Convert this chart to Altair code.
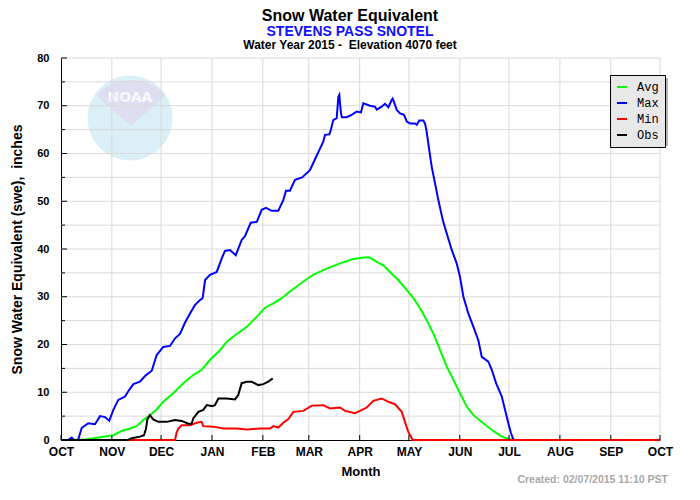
import json
import altair as alt
import pandas as pd

# ---------------- data ----------------
# x = day of water year (0 = Oct 1, 2014), y = snow water equivalent, inches
AVG_DAYS = [0, 14.6, 19.7, 25.8, 31.9, 37.0, 42.0, 46.1, 50.2, 54.2, 58.3, 62.3, 68.4, 74.5, 80.6,
            85.7, 90.8, 96.9, 101.0, 107.1, 113.2, 119.3, 124.3, 129.4, 134.5, 139.5, 147.7, 153.7,
            161.9, 170.0, 178.1, 184.2, 188.3, 192.4, 196.4, 200.5, 205.5, 210.7, 214.7, 218.8,
            222.8, 226.9, 231.0, 235.0, 239.1, 243.1, 247.2, 251.3, 257.3, 263.4, 268.6, 273.6,
            276, 365]
AVG_VALS = [0, 0.1, 0.35, 0.7, 1.0, 1.9, 2.4, 2.9, 4.2, 5.2, 6.4, 8.0, 9.8, 11.9, 13.6,
            14.7, 16.8, 18.8, 20.6, 22.2, 23.7, 25.8, 27.7, 28.6, 29.7, 31.1, 33.2, 34.6,
            35.9, 37.0, 37.9, 38.2, 38.2, 37.3, 36.6, 35.2, 33.5, 31.4, 29.7, 27.6,
            25.1, 22.3, 18.8, 15.4, 12.6, 9.8, 7.0, 5.2, 3.5, 1.9, 0.7, 0.15,
            0, 0]

MAX_DAYS = [0, 4.3, 6.5, 7.9, 10.4, 12.6, 16.6, 20.7, 23.8, 26.8, 29.4, 31.9, 34.9, 39.0, 41.0,
            44.1, 48.1, 51.2, 55.3, 58.3, 62.3, 66.4, 69.5, 72.5, 75.6, 78.6, 81.7, 84.7, 86.3,
            87.8, 90.8, 94.9, 97.9, 99.9, 103.0, 106.5, 110.1, 112.1, 115.6, 119.3, 122.3, 124.9,
            128.4, 132.4, 135.5, 137.1, 139.5, 142.6, 146.9, 151.7, 154.8, 157.4, 159.8, 160.9,
            163.5, 164.4, 165.9, 168.0, 169.0, 169.6, 170.0, 170.6, 171.1, 174.1, 177.1, 180.2,
            182.8, 184.2, 188.3, 191.3, 192.4, 195.4, 197.4, 199.5, 201.5, 202.1, 202.9, 204.6,
            206.6, 209.0, 210.7, 212.7, 215.7, 216.8, 218.3, 220.8, 221.8, 222.8, 224.4, 225.9,
            227.9, 229.9, 232.6, 235.0, 238.1, 241.1, 243.1, 245.2, 248.2, 251.3, 254.3, 256.4,
            260.4, 262.5, 265.1, 268.6, 270.6, 272.6, 274.2, 275.3, 276, 365]
MAX_VALS = [0, 0, 0.5, 0, 0, 2.5, 3.5, 3.3, 5.0, 4.8, 4.0, 6.3, 8.4, 9.1, 10.2,
            11.7, 12.2, 13.4, 14.5, 17.8, 19.5, 19.7, 21.3, 22.2, 24.6, 26.5, 28.3, 29.3, 29.7,
            33.5, 34.6, 35.2, 38.0, 39.6, 39.8, 38.7, 41.9, 42.7, 45.5, 45.7, 48.2, 48.6,
            48.0, 48.0, 50.3, 52.2, 52.2, 54.5, 55.0, 56.5, 58.8, 60.7, 62.5, 63.9,
            64.0, 64.9, 67.0, 67.4, 71.9, 72.3, 70.5, 68.5, 67.6, 67.6, 68.1, 68.8,
            68.6, 70.5, 70.0, 69.8, 69.2, 69.8, 70.4, 69.7, 71.2, 71.5, 70.8, 69.1,
            68.4, 68.1, 66.7, 66.3, 66.3, 66.0, 66.9, 66.9, 66.3, 64.6, 60.7, 57.2,
            53.8, 50.3, 46.1, 43.3, 39.8, 37.0, 34.2, 30.0, 26.5, 23.7, 20.9, 17.4,
            16.4, 14.7, 11.9, 9.1, 6.3, 3.5, 1.4, 0.4, 0, 0]

MIN_DAYS = [0, 69.5, 70.4, 71.5, 73.6, 78.6, 82.7, 85.7, 86.7, 92.8, 98.9, 107.1, 113.2, 121.3,
            127.4, 129.4, 132.4, 135.5, 138.5, 141.6, 147.7, 152.8, 159.8, 163.9, 170.0, 173.1,
            179.2, 182.2, 186.3, 190.3, 195.4, 199.5, 203.5, 207.6, 209.6, 211.6, 214.3, 365]
MIN_VALS = [0, 0, 1.5, 2.4, 3.1, 3.1, 3.6, 3.8, 2.9, 2.8, 2.4, 2.4, 2.2, 2.4,
            2.4, 2.9, 2.6, 3.6, 4.4, 5.9, 6.1, 7.2, 7.3, 6.6, 6.8, 6.1,
            5.6, 6.1, 6.8, 8.2, 8.7, 8.0, 7.5, 5.9, 3.8, 1.7, 0, 0]

OBS_DAYS = [0, 40.8, 43.1, 48.1, 50.6, 51.8, 52.6, 54.2, 56.2, 59.3, 64.4, 69.5, 73.6, 77.6,
            79.6, 80.6, 83.7, 86.7, 88.8, 91.8, 93.8, 95.9, 101.0, 106.0, 108.0, 110.1, 113.2,
            116.2, 120.2, 123.3, 126.3, 129.0]
OBS_VALS = [0, 0, 0.35, 0.7, 1.0, 2.4, 4.3, 5.2, 4.3, 3.8, 3.8, 4.2, 4.0, 3.4,
            3.4, 4.5, 5.9, 6.3, 7.3, 7.1, 7.3, 8.7, 8.7, 8.5, 9.4, 11.9, 12.2,
            12.2, 11.5, 11.7, 12.2, 12.9]

SERIES = ["Avg", "Max", "Min", "Obs"]
COLORS = ["#00ff00", "#0000ff", "#ff0000", "#000000"]

MONTH_DAYS = [0, 31, 61, 92, 123, 151, 182, 212, 243, 273, 304, 335, 365]
MONTH_LABELS = ["OCT", "NOV", "DEC", "JAN", "FEB", "MAR", "APR", "MAY", "JUN", "JUL",
                "AUG", "SEP", "OCT"]
Y_LABELS = [0, 10, 20, 30, 40, 50, 60, 70, 80]
Y_MINOR = [5, 15, 25, 35, 45, 55, 65, 75]
Y_GRID = [5, 10, 15, 20, 25, 30, 35, 40, 45, 50, 55, 60, 65, 70, 75, 80]

TITLE = "Snow Water Equivalent"
SUBTITLE = "STEVENS PASS SNOTEL"
SUBTITLE2 = "Water Year 2015 -\u00a0 Elevation 4070 feet"
Y_TITLE = "Snow Water Equivalent (swe),\u00a0 inches"
X_TITLE = "Month"
CREATED = "Created: 02/07/2015 11:10 PST"

# ---------------- build ----------------
W, H = 599, 382
FONT = "Liberation Sans"

rows = []
for name, days, vals in [("Avg", AVG_DAYS, AVG_VALS), ("Max", MAX_DAYS, MAX_VALS),
                         ("Min", MIN_DAYS, MIN_VALS), ("Obs", OBS_DAYS, OBS_VALS)]:
    for d, v in zip(days, vals):
        rows.append({"day": d, "swe": v, "series": name})
df = pd.DataFrame(rows)

xscale = alt.Scale(domain=[0, 365], nice=False, zero=False)
yscale = alt.Scale(domain=[0, 80], nice=False)
ONE = pd.DataFrame({"k": [0]})

label_expr = f"{json.dumps(MONTH_LABELS)}[indexof({json.dumps(MONTH_DAYS)}, datum.value)]"

x_axis = alt.Axis(values=MONTH_DAYS, labelExpr=label_expr, title=X_TITLE, grid=False,
                  ticks=False, labelPadding=6, labelFont=FONT, labelFontSize=12,
                  labelFontWeight="bold", labelColor="black", labelFlush=False,
                  labelOverlap=False, domainColor="black", domainWidth=1,
                  titleFont=FONT, titleFontSize=13, titleFontWeight="bold",
                  titleColor="black", titlePadding=8)
y_axis = alt.Axis(values=Y_LABELS, format="d", title=Y_TITLE, grid=False, ticks=False,
                  labelPadding=12, labelFont=FONT, labelFontSize=11,
                  labelFontWeight="bold", labelColor="black", domainColor="black",
                  domainWidth=1, titleFont=FONT, titleFontSize=14,
                  titleFontWeight="bold", titleColor="black", titleX=-44, titleY=191,
                  titleAlign="center", titleBaseline="middle", titleAngle=270)

# NOAA watermark
logo_circle = alt.Chart(ONE).mark_point(shape="circle", filled=True, size=7225,
                                        color="#dbeff7", opacity=1).encode(
    x=alt.value(69), y=alt.value(60))
logo_wedge = alt.Chart(ONE).mark_arc(color="#dddff0", radius=46, theta=5.43, theta2=7.13).encode(
    x=alt.value(70), y=alt.value(68))
logo_text = alt.Chart(ONE).mark_text(text="NOAA", color="#f6f6fb", fontSize=14,
                                     fontWeight="bold", font="DejaVu Sans").encode(
    x=alt.value(69), y=alt.value(40))

ygrid = alt.Chart(pd.DataFrame({"swe": Y_GRID})).mark_rule(color="#d9d9d9", strokeWidth=1).encode(
    y=alt.Y("swe:Q", scale=yscale, axis=y_axis))
xgrid = alt.Chart(pd.DataFrame({"day": MONTH_DAYS[1:]})).mark_rule(color="#d9d9d9", strokeWidth=1).encode(
    x=alt.X("day:Q", scale=xscale, axis=x_axis))

shadow = alt.Chart(ONE).mark_rect(color="#b4b4b4").encode(
    x=alt.value(552), x2=alt.value(607), y=alt.value(20), y2=alt.value(88))

lines = alt.Chart(df).mark_line(strokeWidth=2).encode(
    x=alt.X("day:Q", scale=xscale, axis=x_axis),
    y=alt.Y("swe:Q", scale=yscale, axis=y_axis),
    color=alt.Color("series:N", scale=alt.Scale(domain=SERIES, range=COLORS),
                    legend=alt.Legend(title=None, orient="none", legendX=549, legendY=17,
                                      fillColor="#e8e8e8", strokeColor="black", padding=6,
                                      symbolType="stroke", symbolStrokeWidth=2,
                                      symbolSize=100, labelFont="Liberation Mono",
                                      labelFontSize=12, labelColor="black", rowPadding=4,
                                      labelOffset=9)),
)

ytick_major = alt.Chart(pd.DataFrame({"swe": Y_LABELS})).mark_rule(color="black").encode(
    y=alt.Y("swe:Q", scale=yscale, axis=y_axis), x=alt.value(0), x2=alt.value(6))
ytick_minor = alt.Chart(pd.DataFrame({"swe": Y_MINOR})).mark_rule(color="black").encode(
    y=alt.Y("swe:Q", scale=yscale, axis=y_axis), x=alt.value(0), x2=alt.value(4))
xtick = alt.Chart(pd.DataFrame({"day": MONTH_DAYS})).mark_rule(color="black").encode(
    x=alt.X("day:Q", scale=xscale, axis=x_axis), y=alt.value(H), y2=alt.value(H - 5))

t1 = alt.Chart(ONE).mark_text(text=TITLE, font=FONT, fontSize=16, fontWeight="bold",
                              color="black", align="center", baseline="alphabetic").encode(
    x=alt.value(289), y=alt.value(-37))
t2 = alt.Chart(ONE).mark_text(text=SUBTITLE, font=FONT, fontSize=14, fontWeight="bold",
                              color="#1010ff", align="center", baseline="alphabetic").encode(
    x=alt.value(289), y=alt.value(-22))
t3 = alt.Chart(ONE).mark_text(text=SUBTITLE2, font=FONT, fontSize=12, fontWeight="bold",
                              color="black", align="center", baseline="alphabetic").encode(
    x=alt.value(289), y=alt.value(-9))
t4 = alt.Chart(ONE).mark_text(text=CREATED, font=FONT, fontSize=10.5, fontWeight="bold",
                              color="#a8a8a8", align="right", baseline="alphabetic").encode(
    x=alt.value(607), y=alt.value(425))

chart = alt.layer(
    logo_circle, logo_wedge, logo_text, ygrid, xgrid, shadow, lines,
    ytick_major, ytick_minor, xtick, t1, t2, t3, t4,
).properties(
    width=W, height=H,
    autosize=alt.AutoSizeParams(type="none"),
    padding={"left": 53, "top": 50, "right": 32, "bottom": 52},
).configure(font=FONT, background="white").configure_view(stroke=None)

chart.save("out.html", embed_options={"renderer": "svg", "actions": False})
